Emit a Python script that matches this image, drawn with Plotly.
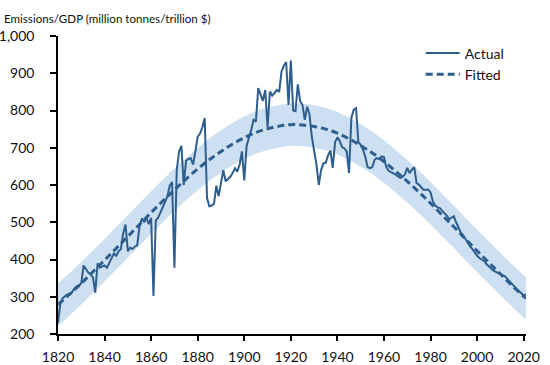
import plotly.graph_objects as go

# ---- Data ----
years = list(range(1820, 2022))
actual = [
    230, 282, 296, 302, 306, 306, 312, 322, 328, 330,   # 1820-1829
    336, 384, 375, 365, 360, 352, 311, 390, 378, 380,   # 1830-1839
    384, 378, 392, 405, 416, 410, 422, 428, 470, 494,   # 1840-1849
    422, 432, 428, 435, 438, 488, 510, 500, 512, 495,   # 1850-1859
    512, 302, 505, 512, 525, 540, 555, 570, 598, 608,   # 1860-1869
    378, 640, 690, 705, 600, 665, 670, 672, 655, 690,   # 1870-1879
    730, 738, 755, 780, 565, 543, 545, 550, 598, 570,   # 1880-1889
    605, 640, 610, 615, 622, 632, 645, 636, 655, 690,   # 1890-1899
    612, 705, 725, 748, 775, 770, 860, 842, 826, 855,   # 1900-1909
    755, 851, 840, 847, 855, 850, 905, 920, 930, 815,   # 1910-1919
    934, 800, 798, 870, 825, 815, 775, 810, 790, 730,   # 1920-1929
    690, 655, 600, 640, 658, 660, 680, 692, 646, 715,   # 1930-1939
    728, 718, 702, 698, 690, 632, 780, 802, 806, 715,   # 1940-1949
    708, 695, 675, 648, 645, 648, 668, 672, 670, 677,   # 1950-1959
    675, 648, 638, 635, 632, 628, 623, 619, 622, 628,   # 1960-1969
    646, 632, 641, 648, 605, 601, 594, 587, 587, 588,   # 1970-1979
    580, 556, 545, 540, 538, 530, 524, 518, 508, 512,   # 1980-1989
    516, 500, 487, 472, 465, 455, 443, 435, 428, 418,   # 1990-1999
    410, 404, 400, 396, 388, 383, 376, 370, 367, 365,   # 2000-2009
    362, 358, 355, 348, 342, 335, 328, 321, 316, 311,   # 2010-2019
    304, 306                                            # 2020-2021
]

fit_years = list(range(1820, 2021, 5)) + [2021]
fitted = [279, 307, 336, 367, 398, 430, 462, 494, 526, 557, 587, 616, 643, 668,
          690, 710, 727, 741, 751, 758, 762, 761, 757, 750, 739, 724, 706, 686,
          663, 637, 610, 581, 551, 519, 488, 455, 423, 392, 361, 330, 301, 296]
band_upper = [336, 364, 393, 424, 455, 487, 519, 551, 583, 614, 644, 673, 700, 725,
              747, 767, 784, 798, 808, 815, 819, 818, 814, 807, 796, 781, 763, 743,
              720, 694, 667, 638, 608, 576, 545, 512, 480, 449, 418, 387, 358, 353]
band_lower = [222, 250, 279, 310, 341, 373, 405, 437, 469, 500, 530, 559, 586, 611,
              633, 653, 670, 684, 694, 701, 705, 704, 700, 693, 682, 667, 649, 629,
              606, 580, 553, 524, 494, 462, 431, 398, 366, 335, 304, 273, 244, 239]

y_ticks = [200, 300, 400, 500, 600, 700, 800, 900, 1000]
y_tick_labels = ["200", "300", "400", "500", "600", "700", "800", "900", "1,000"]
x_ticks = list(range(1820, 2021, 20))

LINE = "#2d5e8e"
BAND = "#cde0f1"
FONT = "Lato"
TXT = "#111111"

fig = go.Figure()

# confidence band
fig.add_trace(go.Scatter(x=fit_years, y=band_upper, mode="lines", line=dict(width=0, shape="spline"),
                         hoverinfo="skip", showlegend=False))
fig.add_trace(go.Scatter(x=fit_years, y=band_lower, mode="lines", line=dict(width=0, shape="spline"),
                         fill="tonexty", fillcolor=BAND, hoverinfo="skip", showlegend=False))

fig.add_trace(go.Scatter(x=years, y=actual, mode="lines", name="Actual",
                         line=dict(color=LINE, width=2)))
fig.add_trace(go.Scatter(x=fit_years, y=fitted, mode="lines", name="Fitted",
                         line=dict(color=LINE, width=3, dash="7px,4px", shape="spline")))

fig.update_layout(
    width=550, height=365,
    margin=dict(l=58, r=24, t=36, b=31),
    paper_bgcolor="white", plot_bgcolor="white",
    font=dict(family=FONT, size=14, color=TXT),
    title=dict(text="Emissions/GDP (million tonnes/trillion $)", xref="container", yref="container",
               x=4/550, xanchor="left", y=1-19/365, yanchor="middle",
               font=dict(family=FONT, size=11.6, color=TXT)),
    legend=dict(x=0.775, y=0.995, xanchor="left", yanchor="top", bgcolor="rgba(0,0,0,0)",
                traceorder="normal",
                font=dict(family=FONT, size=14, color=TXT), itemwidth=34),
    showlegend=True,
)
fig.update_xaxes(range=[1820, 2021], tickvals=x_ticks, showgrid=False, zeroline=False,
                 showline=True, linecolor="black", linewidth=1.5, automargin=False,
                 ticks="outside", ticklen=5, tickwidth=1.5, tickcolor="black",
                 tickfont=dict(family=FONT, size=14, color=TXT), ticklabelstandoff=4)
fig.update_yaxes(range=[200, 1000], tickvals=y_ticks, ticktext=y_tick_labels, showgrid=False,
                 zeroline=False, showline=True, linecolor="black", linewidth=1.5, automargin=False,
                 ticks="outside", ticklen=6, tickwidth=1.5, tickcolor="black",
                 tickfont=dict(family=FONT, size=14, color=TXT), ticklabelstandoff=13)

fig.write_html("out.html", config={"displayModeBar": False},
               post_script="document.body.style.margin='0px';")
